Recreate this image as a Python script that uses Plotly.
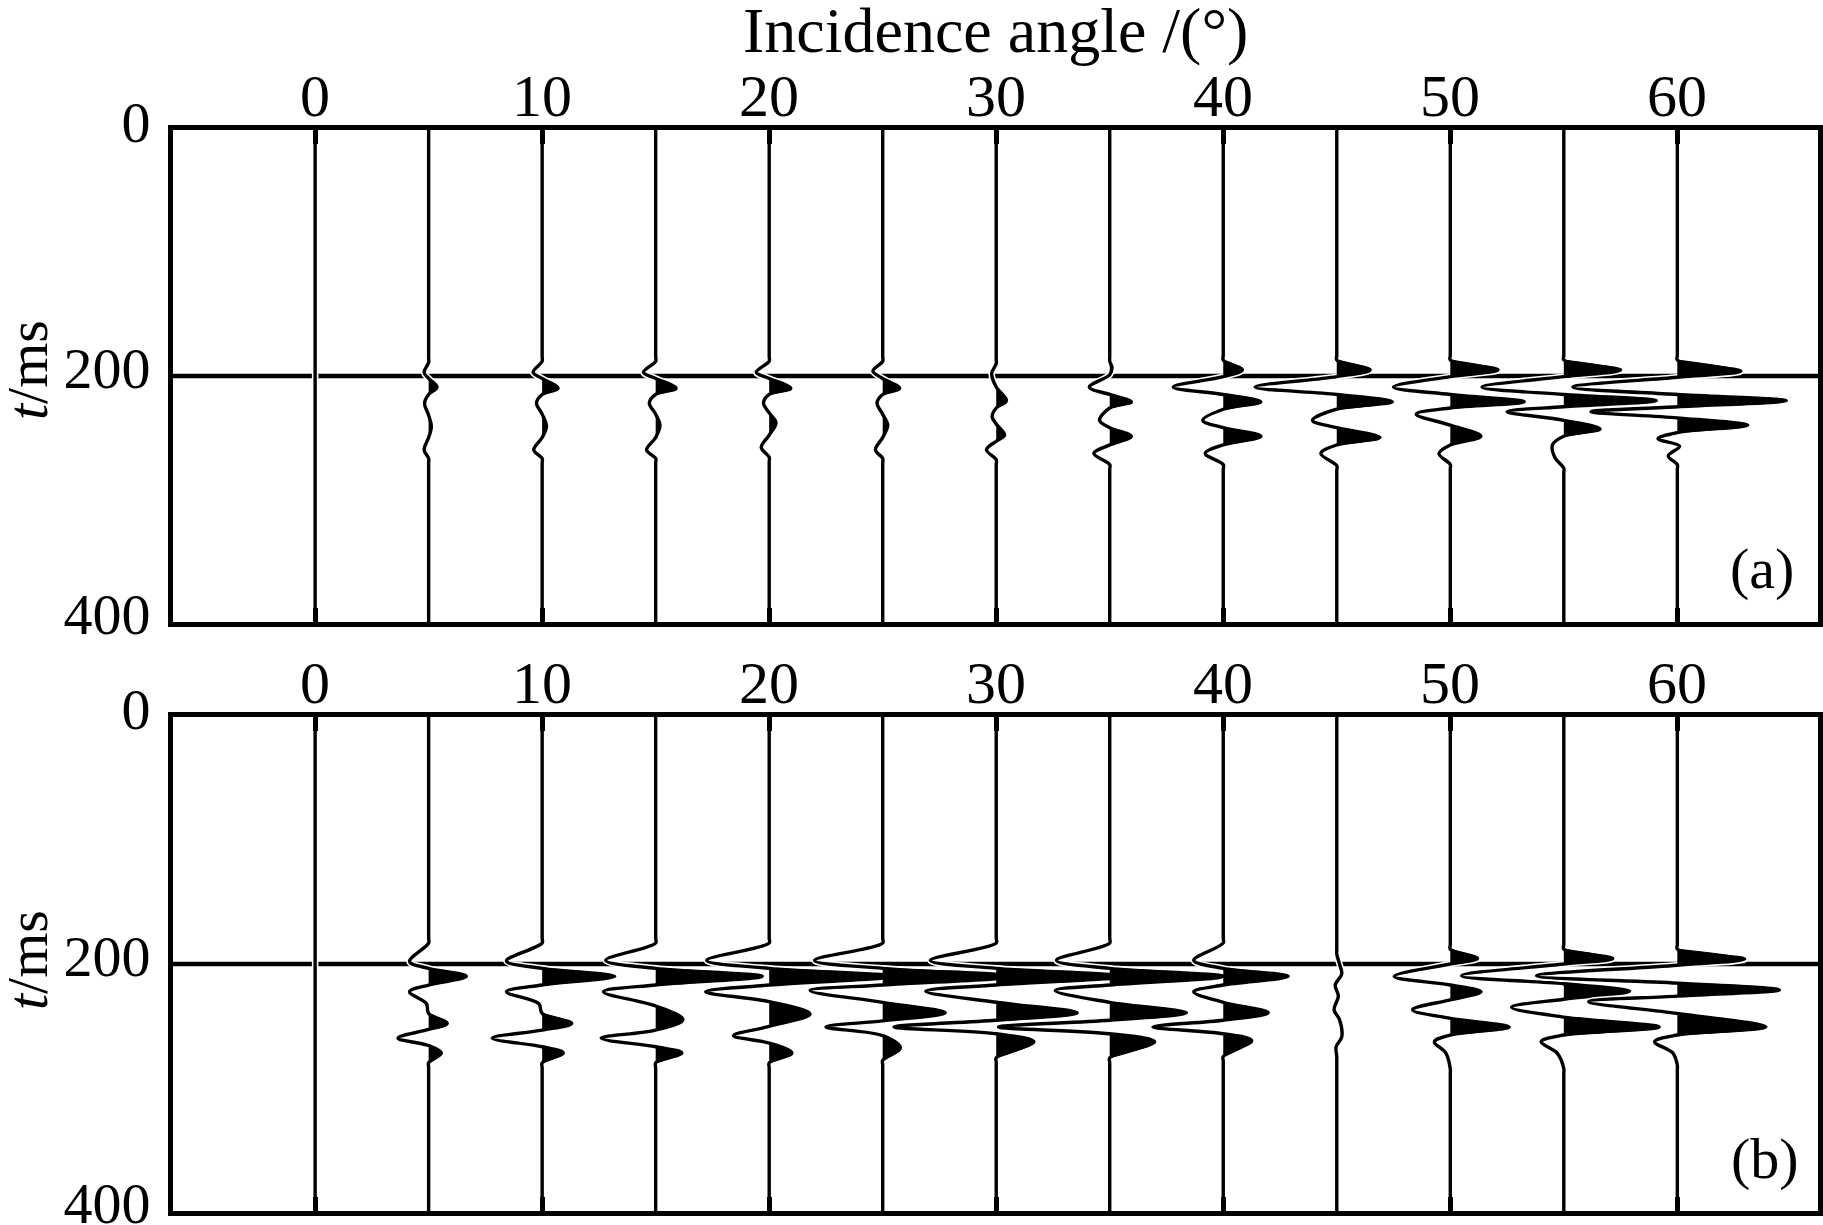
import plotly.graph_objects as go

ANGLES = [0, 5, 10, 15, 20, 25, 30, 35, 40, 45, 50, 55, 60]
TICKS_X = [0, 10, 20, 30, 40, 50, 60]
TICKS_T = [0, 200, 400]
T_MAX = 400

# wiggle key points per trace: (time in ms, amplitude in degrees of offset)
# panel (a)
A00 = []
A05 = [(189, 0), (197, -0.2), (202, 0), (209, 0.37), (215, 0), (222, -0.18), (232, 0), (241, 0.12), (250, 0), (260, -0.2), (267, 0)]
A10 = [(188, 0), (197, -0.4), (202, 0), (210, 0.7), (215, 0), (222, -0.25), (231, 0), (241, 0.19), (250, 0), (260, -0.37), (267, 0)]
A15 = [(188, 0), (197, -0.54), (202, 0), (210, 0.9), (215, 0), (222, -0.28), (231, 0), (240, 0.19), (250, 0), (260, -0.4), (267, 0)]
A20 = [(188, 0), (197, -0.57), (202, 0), (210, 0.95), (215, 0), (222, -0.25), (230, 0), (238, 0.3), (248, 0), (258, -0.35), (266, 0)]
A25 = [(188, 0), (196, -0.43), (202, 0), (210, 0.75), (215, 0), (222, -0.25), (231, 0), (240, 0.22), (250, 0), (260, -0.32), (267, 0)]
A30 = [(190, 0), (198, -0.2), (209, 0), (220, 0.45), (226, 0), (233, -0.18), (239, 0), (248, 0.37), (253, 0), (260, -0.43), (268, 0)]
A35 = [(188, 0), (193, 0.1), (199, 0), (209, -0.9), (215, 0), (221, 0.95), (226, 0), (236, -0.45), (242, 0), (249, 0.95), (256, 0), (263, -0.7), (272, 0)]
A40 = [(187, 0), (195, 0.84), (200.5, 0), (209, -2.2), (215, 0), (221, 1.66), (227, 0), (236, -0.9), (242, 0), (249, 1.66), (256, 0), (263, -0.8), (272, 0)]
A45 = [(187, 0), (195, 1.47), (200.5, 0), (209, -3.6), (215, 0), (221, 2.45), (227, 0), (236, -1.07), (242, 0), (250, 1.9), (256, 0), (263, -0.7), (273, 0)]
A50 = [(187, 0), (195, 2.1), (200.5, 0), (209, -2.5), (215, 0), (221, 3.26), (226, 0), (231, -1.5), (240, 0), (249, 1.35), (256, 0), (263, -0.5), (272, 0)]
A55 = [(187, 0), (195, 2.5), (200.5, 0), (209, -3.6), (215, 0), (220, 4.07), (225, 0), (229, -2.5), (236, 0), (243, 1.6), (249, 0), (256, -0.5), (266, -0.4), (275, 0)]
A60 = [(187, 0), (196, 2.8), (201, 0), (209, -4.6), (215, 0), (220, 4.8), (225, 0), (229, -3.8), (234, 0), (240, 3.1), (246, 0), (251, -0.85), (257, 0.1), (265, -0.4), (272, 0)]

# panel (b)
B00 = []
B05 = [(183, 0), (198, -0.84), (203.5, 0), (210, 1.66), (217, 0), (222.5, -0.84), (232, -0.1), (240, 0), (248, 0.82), (253, 0), (260, -1.35), (266, 0), (272, 0.56), (280, 0)]
B10 = [(183, 0), (197.5, -1.57), (203.5, 0), (210, 3.2), (217, 0), (222.5, -1.57), (232, -0.15), (240, 0), (248, 1.3), (253.5, 0), (260, -2.2), (267, 0), (272, 0.93), (280, 0)]
B15 = [(183, 0), (197, -2.2), (203.5, 0), (210, 4.7), (217, 0), (222.5, -2.3), (234, 0), (245, 1.2), (253.5, 0), (260, -2.4), (267, 0), (272, 1.15), (280, 0)]
B20 = [(183, 0), (197, -2.75), (203.5, 0), (210, 5.5), (217, 0), (222.5, -2.8), (230.5, 0), (240.5, 1.8), (250.5, 0), (258, -1.57), (264, 0), (272, 1.0), (280, 0)]
B25 = [(183, 0), (197, -3.0), (203.5, 0), (210, 5.8), (217, 0), (221.5, -3.2), (231, 0), (239.5, 2.76), (246, 0), (251, -2.5), (258, 0), (268, 0.78), (278, 0)]
B30 = [(183, 0), (197, -2.9), (203.5, 0), (210, 5.6), (217, 0), (222, -3.1), (231, 0), (239.5, 3.57), (245.5, 0), (251, -4.5), (256.5, 0), (263, 1.66), (276, 0)]
B35 = [(183, 0), (197, -2.35), (203.5, 0), (210, 5.0), (217, 0), (221.5, -2.4), (231, 0), (239.5, 3.38), (245.5, 0), (251, -4.9), (256.5, 0), (263, 1.98), (276, 0)]
B40 = [(183, 0), (197, -1.3), (203.5, 0), (210, 2.86), (217, 0), (222.5, -1.3), (231, 0), (239.5, 1.98), (245.5, 0), (251, -3.1), (256.5, 0), (262, 1.25), (275, 0)]
B45 = [(192, 0), (200, 0.12), (208, 0.22), (217, -0.07), (226, 0.07), (237, -0.12), (245, 0.12), (259, 0.22), (267, -0.03), (275, 0)]
B50 = [(188, 0), (195.5, 1.2), (200, 0), (210, -2.47), (217, 0), (222.5, 1.35), (229, 0), (237, -1.66), (244, 0), (251, 2.6), (257.5, 0), (263, -0.7), (272, -0.2), (285, 0)]
B55 = [(188, 0), (195.5, 2.16), (200, 0), (209.5, -4.5), (216, 0), (222, 2.9), (228.5, 0), (235, -2.3), (243, 0), (251, 4.2), (257.5, 0), (263, -1.0), (272, -0.3), (285, 0)]
B60 = [(188, 0), (196, 2.97), (201, 0), (209.5, -6.2), (215.5, 0), (221, 4.5), (226, 0), (230.5, -3.9), (240, 0), (251, 3.9), (257.5, 0), (263, -1.0), (272, -0.2), (282, 0)]

PANEL_A = [A00, A05, A10, A15, A20, A25, A30, A35, A40, A45, A50, A55, A60]
PANEL_B = [B00, B05, B10, B15, B20, B25, B30, B35, B40, B45, B50, B55, B60]

SERIF = "Liberation Serif, Times New Roman, serif"
INK = "black"
GUARD = 4  # ms of straight lead-in / lead-out so the spline stays on the baseline

fig = go.Figure()


def add_panel(traces, xa, ya):
    common = dict(xaxis=xa, yaxis=ya, hoverinfo="skip", showlegend=False, mode="lines")
    for ang, pts in zip(ANGLES, traces):
        if pts:
            ts = [0, pts[0][0] - GUARD] + [t for t, _ in pts] + [pts[-1][0] + GUARD, T_MAX]
            xs = [ang, ang] + [ang + a for _, a in pts] + [ang, ang]
        else:
            ts, xs = [0, T_MAX], [ang, ang]
        # white halo first, then the wiggle, then its own filled lobes
        fig.add_trace(go.Scatter(x=xs, y=ts, line=dict(width=6.5, color="white", shape="spline"), **common))
        fig.add_trace(go.Scatter(x=xs, y=ts, line=dict(width=3.4, color=INK, shape="spline"), **common))
        run = []
        for t, a in pts:
            if a > 0:
                run.append((t, a))
            elif a == 0:
                if run:
                    run.append((t, 0))
                    fig.add_trace(go.Scatter(
                        x=[ang + v for _, v in run], y=[u for u, _ in run],
                        line=dict(width=1, shape="spline", color=INK),
                        fill="toself", fillcolor=INK, **common))
                run = [(t, 0)]
            else:
                run = []


add_panel(PANEL_A, "x", "y")
add_panel(PANEL_B, "x2", "y2")

X_RANGE = [-6.26, 66.2]
xax = dict(range=X_RANGE, domain=[0.0949, 0.9973], side="top", tickvals=TICKS_X,
           showticklabels=False, ticks="inside", ticklen=14, tickwidth=5, tickcolor=INK,
           showline=True, linewidth=5, linecolor=INK, mirror="ticks",
           showgrid=False, zeroline=False, automargin=False)
yax = dict(range=[T_MAX, 0], tickvals=TICKS_T, ticks="", showline=True, linewidth=5,
           linecolor=INK, mirror=True, showgrid=False, zeroline=False, automargin=False,
           ticklabelstandoff=6, ticklabelshift=8, ticklabeloverflow="allow",
           tickfont=dict(family=SERIF, size=58, color=INK))

fig.update_layout(
    width=1823, height=1225, autosize=False,
    margin=dict(l=0, r=0, t=0, b=0),
    paper_bgcolor="white", plot_bgcolor="white",
    xaxis=dict(xax, anchor="y"),
    yaxis=dict(yax, domain=[0.4922, 0.8939], anchor="x"),
    xaxis2=dict(xax, anchor="y2"),
    yaxis2=dict(yax, domain=[0.0114, 0.4147], anchor="x2"),
)

for yr in ("y", "y2"):
    fig.add_shape(type="line", xref="x domain" if yr == "y" else "x2 domain", yref=yr,
                  x0=0, x1=1, y0=200, y1=200, line=dict(color=INK, width=4.5), layer="below")

font = dict(family=SERIF, size=58, color=INK)
ann = dict(showarrow=False, xref="paper", yref="paper", xanchor="center", yanchor="middle", font=font)

# angle labels above each panel, placed through the x scales
for xr, ylab in (("x", 1 - 96 / 1225), ("x2", 1 - 683 / 1225)):
    for v in TICKS_X:
        fig.add_annotation(ann, xref=xr, x=v, y=ylab, text=str(v), font=dict(font, size=60))

fig.add_annotation(ann, text="Incidence angle /(°)", x=0.546, y=1 - 31 / 1225, font=dict(font, size=64))
fig.add_annotation(ann, text="<i>t</i>/ms", textangle=-90, x=27 / 1823, y=1 - 370 / 1225)
fig.add_annotation(ann, text="<i>t</i>/ms", textangle=-90, x=27 / 1823, y=1 - 960 / 1225)
fig.add_annotation(ann, text="(a)", x=1762 / 1823, y=1 - 568 / 1225)
fig.add_annotation(ann, text="(b)", x=1765 / 1823, y=1 - 1158 / 1225)

fig.write_html("out.html", config={"displayModeBar": False},
               post_script="document.body.style.margin='0';")
